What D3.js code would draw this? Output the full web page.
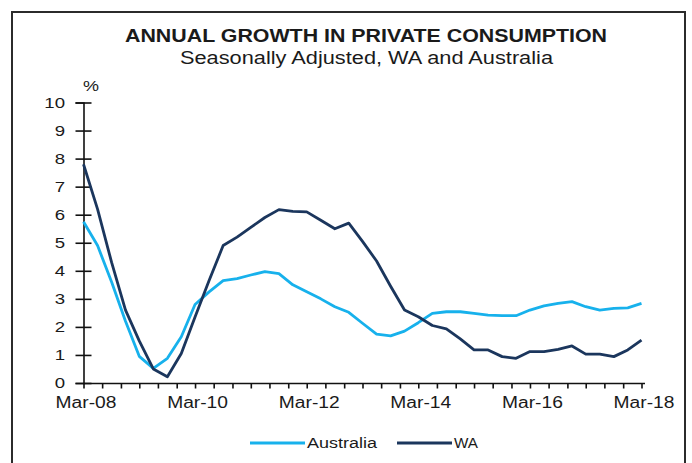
<!DOCTYPE html>
<html>
<head>
<meta charset="utf-8">
<script src="https://cdn.jsdelivr.net/npm/d3@7"></script>
<style>
  html, body { margin: 0; padding: 0; background: #fff; }
  svg { display: block; }
  text { font-family: "Liberation Sans", Arial, sans-serif; fill: #1a1a1a; }
</style>
</head>
<body>
<div id="chart"></div>
<script>
// ---- Data (quarterly, Mar-08 to Mar-18) ----
const startYear = 2008, startMonth = 2; // March 2008
const australia = [5.75, 4.9, 3.6, 2.2, 0.95, 0.52, 0.88, 1.65, 2.8, 3.25, 3.65, 3.72, 3.85, 3.97, 3.9, 3.5, 3.25, 3.0, 2.72, 2.52, 2.13, 1.74, 1.68, 1.85, 2.15, 2.48, 2.54, 2.54, 2.48, 2.42, 2.4, 2.4, 2.6, 2.75, 2.84, 2.9, 2.72, 2.6, 2.66, 2.68, 2.84];
const wa = [7.8, 6.2, 4.3, 2.6, 1.5, 0.5, 0.22, 1.05, 2.35, 3.65, 4.9, 5.2, 5.55, 5.9, 6.18, 6.12, 6.1, 5.8, 5.5, 5.7, 5.05, 4.35, 3.45, 2.6, 2.36, 2.05, 1.93, 1.57, 1.18, 1.18, 0.94, 0.88, 1.12, 1.12, 1.2, 1.32, 1.03, 1.03, 0.94, 1.18, 1.53];
const yTicks = [0, 1, 2, 3, 4, 5, 6, 7, 8, 9, 10];
const xTickLabels = ["Mar-08", "Mar-10", "Mar-12", "Mar-14", "Mar-16", "Mar-18"];
const seriesNames = ["Australia", "WA"];
const colors = ["#17B1EC", "#1B365D"];

const W = 692, H = 463;
const start = new Date(startYear, startMonth, 1);
const end = d3.timeMonth.offset(start, 120);
const dates = australia.map((_, i) => d3.timeMonth.offset(start, 3 * i));

const svg = d3.select("#chart").append("svg").attr("width", W).attr("height", H);

// frame
svg.append("rect").attr("x", 12).attr("y", 12).attr("width", 673).attr("height", 470)
  .attr("fill", "none").attr("stroke", "#2b2b2b").attr("stroke-width", 2);

const x = d3.scaleTime().domain([start, end]).range([83.5, 641.5]);
const y = d3.scaleLinear().domain([0, 10]).range([383, 102.5]);

function stretch(sel, f) {
  sel.each(function () {
    const n = this.getComputedTextLength();
    d3.select(this).attr("textLength", n * f).attr("lengthAdjust", "spacingAndGlyphs");
  });
}

// title
svg.append("text").attr("x", 366).attr("y", 42).attr("text-anchor", "middle")
  .style("font-size", "19px").style("font-weight", "bold")
  .attr("textLength", 482).attr("lengthAdjust", "spacingAndGlyphs")
  .text("ANNUAL GROWTH IN PRIVATE CONSUMPTION");
svg.append("text").attr("x", 366.5).attr("y", 64).attr("text-anchor", "middle")
  .style("font-size", "17.5px")
  .attr("textLength", 373).attr("lengthAdjust", "spacingAndGlyphs")
  .text("Seasonally Adjusted, WA and Australia");

// y axis
const yAxis = svg.append("g").attr("transform", "translate(83.5,0)")
  .call(d3.axisLeft(y).tickValues(yTicks).tickSize(8).tickPadding(10.5).tickFormat(d3.format("d")));
yAxis.select(".domain").attr("stroke", "#111").attr("stroke-width", 1.6);
yAxis.selectAll(".tick line").attr("x1", 8).attr("x2", -8).attr("stroke", "#111").attr("stroke-width", 1.6);
yAxis.selectAll(".tick text").style("font-size", "15.5px").style("font-family", "Liberation Sans, Arial, sans-serif")
  .attr("fill", "#1a1a1a").call(stretch, 1.2);

svg.append("text").attr("x", 83).attr("y", 91).style("font-size", "15px")
  .attr("textLength", 16).attr("lengthAdjust", "spacingAndGlyphs").text("%");

// x axis
const tickDates = d3.range(31).map(i => d3.timeMonth.offset(start, 4 * i));
const xAxis = svg.append("g").attr("transform", "translate(0,383.5)")
  .call(d3.axisBottom(x).tickValues(tickDates).tickSizeInner(5).tickSizeOuter(0).tickPadding(3)
    .tickFormat((d, i) => i % 6 === 0 ? xTickLabels[i / 6] : ""));
xAxis.select(".domain").attr("stroke", "none");
xAxis.selectAll(".tick line").attr("stroke", "#111").attr("stroke-width", 1.6);
xAxis.selectAll(".tick text").style("font-size", "16px").style("font-family", "Liberation Sans, Arial, sans-serif")
  .attr("fill", "#1a1a1a").attr("dx", 2).attr("dy", "1.05em").call(stretch, 1.2);
svg.append("line").attr("x1", 83.5).attr("x2", 645).attr("y1", 383.5).attr("y2", 383.5)
  .attr("stroke", "#111").attr("stroke-width", 1.6);

// lines
const line = d3.line().x((d, i) => x(dates[i])).y(d => y(d));
[australia, wa].forEach((s, k) => {
  svg.append("path").datum(s).attr("d", line).attr("fill", "none")
    .attr("stroke", colors[k]).attr("stroke-width", 2.8).attr("stroke-linejoin", "round");
});

// legend
const legendItems = [
  { name: seriesNames[0], color: colors[0], x0: 250, x1: 305, tx: 307, tl: 70 },
  { name: seriesNames[1], color: colors[1], x0: 397, x1: 452, tx: 454, tl: 24 }
];
legendItems.forEach(it => {
  svg.append("line").attr("x1", it.x0).attr("x2", it.x1).attr("y1", 443).attr("y2", 443)
    .attr("stroke", it.color).attr("stroke-width", 3);
  svg.append("text").attr("x", it.tx).attr("y", 448).style("font-size", "15.5px")
    .attr("textLength", it.tl).attr("lengthAdjust", "spacingAndGlyphs").text(it.name);
});
</script>
</body>
</html>
